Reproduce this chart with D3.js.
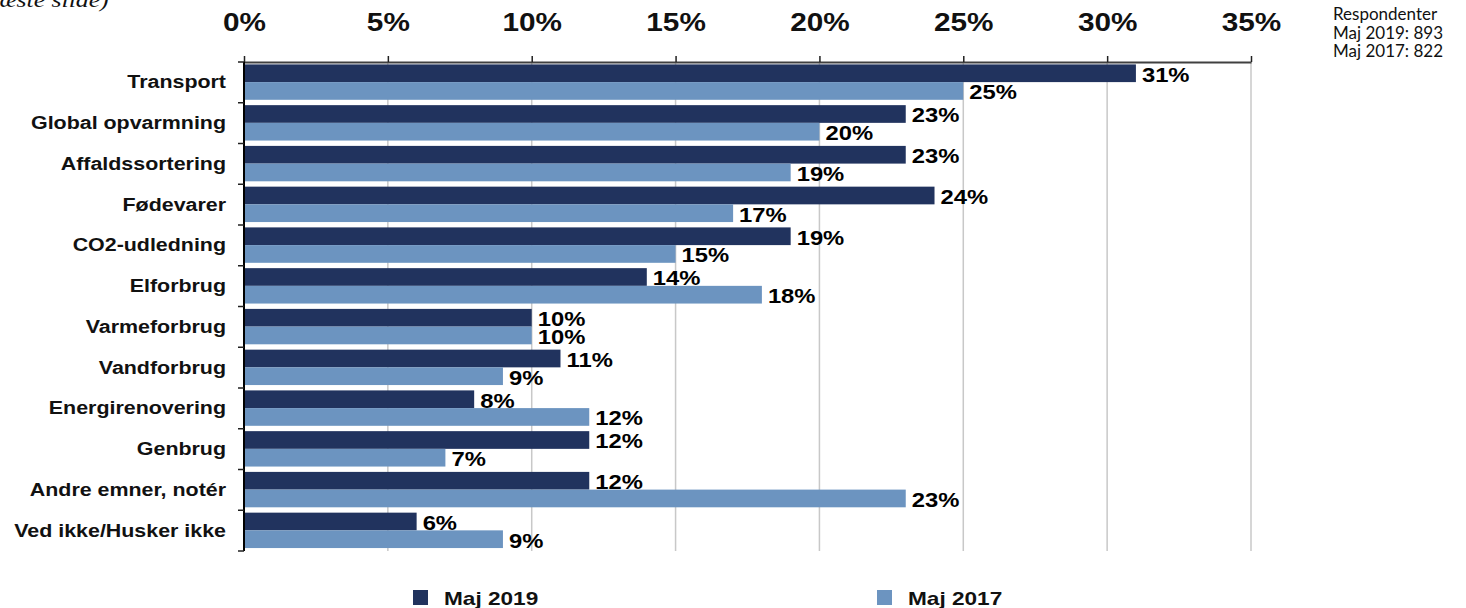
<!DOCTYPE html>
<html>
<head>
<meta charset="utf-8">
<script src="https://cdn.jsdelivr.net/npm/d3@7"></script>
<style>
  body { margin: 0; background: #fff; }
  svg { display: block; }
</style>
</head>
<body>
<div id="canvas"></div>
<script>
/* DATA */
const categories = ["Transport", "Global opvarmning", "Affaldssortering", "Fødevarer", "CO2-udledning",
    "Elforbrug", "Varmeforbrug", "Vandforbrug", "Energirenovering", "Genbrug",
    "Andre emner, notér", "Ved ikke/Husker ikke"];
const maj2019 = [31, 23, 23, 24, 19, 14, 10, 11, 8, 12, 12, 6];
const maj2017 = [25, 20, 19, 17, 15, 18, 10, 9, 12, 7, 23, 9];
const seriesNames = ["Maj 2019", "Maj 2017"];
const tickValues = [0, 5, 10, 15, 20, 25, 30, 35];
const respondenter = ["Respondenter", "Maj 2019: 893", "Maj 2017: 822"];

const colors = ["#21335e", "#6c94c0"];
const stretch = 1.19;   // the original text is drawn a little wide

/* CREATE THE SVG CANVAS */
const width = 1466;
const height = 608;

const svg = d3.select("#canvas")
    .append("svg")
    .attr("width", width)
    .attr("height", height);

const x = d3.scaleLinear().domain([0, 35]).range([244, 1251]);
const y = d3.scaleBand().domain(categories).range([62, 551]);
const barH = 17.7;
const barOff = 2.4;

/* GRIDLINES */
svg.selectAll(".grid")
    .data(tickValues.slice(1))
    .enter().append("line")
    .attr("x1", d => x(d)).attr("x2", d => x(d))
    .attr("y1", 62).attr("y2", 551)
    .attr("stroke", "#c8c8c8")
    .attr("stroke-width", 1.5);

/* BARS */
const rows = categories.map((c, i) => ({ cat: c, v: [maj2019[i], maj2017[i]] }));

rows.forEach(r => {
    r.v.forEach((v, j) => {
        const top = y(r.cat) + barOff + j * barH;
        svg.append("rect")
            .attr("x", x(0))
            .attr("y", top)
            .attr("width", x(v) - x(0))
            .attr("height", barH)
            .attr("fill", colors[j]);

        svg.append("g")
            .attr("transform", `translate(${x(v) + 6},${top + barH - 0.5}) scale(${stretch},1)`)
            .append("text")
            .attr("font-family", "Liberation Sans, Arial, sans-serif")
            .attr("font-weight", "bold")
            .attr("font-size", 20)
            .attr("fill", "#000")
            .text(v + "%");
    });
});

/* TOP AXIS */
const xAxis = d3.axisTop(x)
    .tickValues(tickValues)
    .tickFormat(d => d + "%")
    .tickSize(6)
    .tickSizeOuter(0)
    .tickPadding(25);

const gx = svg.append("g")
    .attr("transform", "translate(0,62)")
    .call(xAxis);

gx.select(".domain").attr("stroke", "#404040").attr("stroke-width", 2);
gx.selectAll(".tick line").attr("stroke", "#202020").attr("stroke-width", 1.5);
gx.selectAll(".tick text")
    .attr("font-family", "Liberation Sans, Arial, sans-serif")
    .attr("font-weight", "bold")
    .attr("font-size", 25)
    .attr("fill", "#111")
    .attr("transform", `scale(${stretch},1)`);

/* LEFT AXIS */
svg.append("line")
    .attr("x1", x(0)).attr("x2", x(0))
    .attr("y1", 62).attr("y2", 551)
    .attr("stroke", "#000")
    .attr("stroke-width", 2);

const bounds = categories.map(c => y(c)).concat([y.range()[1]]);
svg.selectAll(".ytick")
    .data(bounds)
    .enter().append("line")
    .attr("x1", x(0) - 6).attr("x2", x(0))
    .attr("y1", d => d).attr("y2", d => d)
    .attr("stroke", "#202020")
    .attr("stroke-width", 1.5);

svg.selectAll(".cat")
    .data(categories)
    .enter().append("g")
    .attr("transform", d => `translate(226,${y(d) + y.bandwidth() / 2 + 6}) scale(${stretch},1)`)
    .append("text")
    .attr("text-anchor", "end")
    .attr("font-family", "Liberation Sans, Arial, sans-serif")
    .attr("font-weight", "bold")
    .attr("font-size", 18)
    .attr("fill", "#111")
    .text(d => d);

/* LEGEND */
const legendX = [413, 877];
seriesNames.forEach((s, i) => {
    svg.append("rect")
        .attr("x", legendX[i])
        .attr("y", 590)
        .attr("width", 15)
        .attr("height", 15)
        .attr("fill", colors[i]);

    svg.append("g")
        .attr("transform", `translate(${legendX[i] + 31},605) scale(${stretch},1)`)
        .append("text")
        .attr("font-family", "Liberation Sans, Arial, sans-serif")
        .attr("font-weight", "bold")
        .attr("font-size", 19)
        .attr("fill", "#111")
        .text(s);
});

/* RESPONDENTER NOTE */
svg.selectAll(".resp")
    .data(respondenter)
    .enter().append("text")
    .attr("x", 1333)
    .attr("y", (d, i) => 20 + i * 18.5)
    .attr("font-family", "Lato, Noto Sans, sans-serif")
    .attr("font-size", 17)
    .attr("fill", "#111")
    .text(d => d);

/* CLIPPED TITLE FROM PREVIOUS SLIDE */
svg.append("g")
    .attr("transform", `translate(-22,6.5) scale(${stretch},1)`)
    .append("text")
    .attr("font-family", "Liberation Serif, Times New Roman, serif")
    .attr("font-style", "italic")
    .attr("font-size", 21.6)
    .attr("fill", "#111")
    .text("(næste slide)");
</script>
</body>
</html>
